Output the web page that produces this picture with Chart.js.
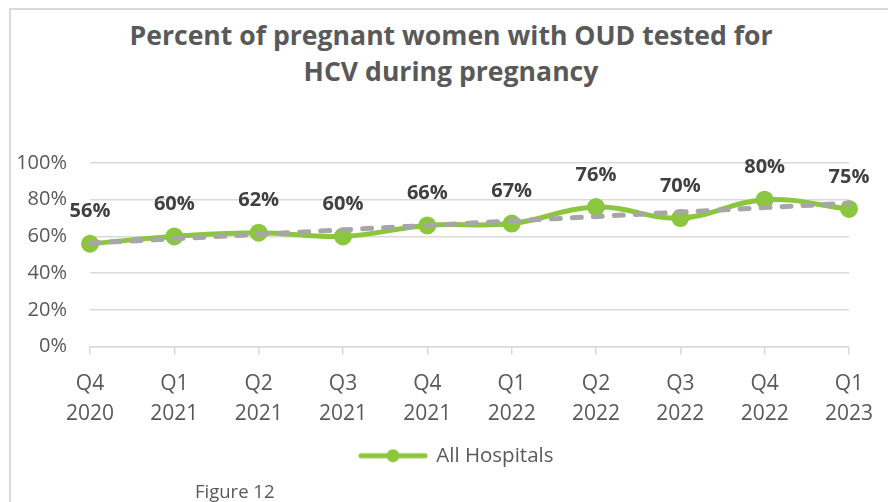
<!DOCTYPE html>
<html>
<head>
<meta charset="utf-8">
<script src="https://cdn.jsdelivr.net/npm/chart.js@4/dist/chart.umd.min.js"></script>
<style>
  html, body { margin: 0; padding: 0; background: #fff; overflow: hidden; }
  #wrap { position: relative; width: 888px; height: 502px; }
  #frame { position: absolute; left: 9px; top: 8px; width: 1000px; height: 600px; border: 2px solid #d9d9d9; }
  #title { position: absolute; left: 0; top: 17px; width: 902px; text-align: center;
           font: bold 26.6px "Open Sans", sans-serif; line-height: 36px; color: #595959; }
  #fig { position: absolute; left: 195px; top: 478px; font: 18.5px "Open Sans", sans-serif; color: #595959; }
  canvas { position: absolute; left: 0; top: 0; }
</style>
</head>
<body>
<div id="wrap">
  <div id="frame"></div>
  <div id="title">Percent of pregnant women with OUD tested for<br>HCV during pregnancy</div>
  <canvas id="chart" width="888" height="502"></canvas>
  <div id="fig">Figure 12</div>
</div>
<script>
// quarters on the x axis
const quarters = [
  ["Q4", "2020"], ["Q1", "2021"], ["Q2", "2021"], ["Q3", "2021"], ["Q4", "2021"],
  ["Q1", "2022"], ["Q2", "2022"], ["Q3", "2022"], ["Q4", "2022"], ["Q1", "2023"]
];
// percent tested, all hospitals
const allHospitals = [56, 60, 62, 60, 66, 67, 76, 70, 80, 75];
// linear trendline ends
const trendLine = [56.3, null, null, null, null, null, null, null, null, 78.1];

const green = "#8cc63f";
const grey = "#595959";

// legend sample: line with a dot
function legendMark() {
  const c = document.createElement("canvas");
  c.width = 70; c.height = 14;
  const g = c.getContext("2d");
  g.strokeStyle = green; g.lineWidth = 5; g.lineCap = "round";
  g.beginPath(); g.moveTo(3, 7); g.lineTo(67, 7); g.stroke();
  g.fillStyle = green;
  g.beginPath(); g.arc(35, 7, 6.5, 0, Math.PI * 2); g.fill();
  return c;
}

const valueLabels = {
  id: "valueLabels",
  afterDatasetsDraw(chart) {
    const meta = chart.getDatasetMeta(0);
    const ctx = chart.ctx;
    ctx.save();
    ctx.font = "bold 20px 'Open Sans', sans-serif";
    ctx.fillStyle = "#404040";
    ctx.textAlign = "center";
    ctx.textBaseline = "middle";
    meta.data.forEach(function (pt, i) {
      ctx.fillText(allHospitals[i] + "%", pt.x, pt.y - 32);
    });
    ctx.restore();
  }
};

// put the legend where the original sits
const legendShift = {
  id: "legendShift",
  afterLayout(chart) {
    chart.legend.left = 350;
  }
};

new Chart(document.getElementById("chart"), {
  type: "line",
  data: {
    labels: quarters,
    datasets: [
      {
        label: "All Hospitals",
        data: allHospitals,
        borderColor: green,
        backgroundColor: green,
        borderWidth: 5,
        pointRadius: 6.5,
        pointBackgroundColor: green,
        pointBorderColor: green,
        tension: 0.4,
        order: 1
      },
      {
        label: "trend",
        data: trendLine,
        spanGaps: true,
        borderColor: "#a6a6a6",
        borderWidth: 5,
        borderDash: [9, 12],
        borderCapStyle: "round",
        pointRadius: 0,
        tension: 0,
        order: 0
      }
    ]
  },
  options: {
    responsive: false,
    animation: false,
    layout: { padding: { top: 163, left: 0, right: 38, bottom: 26 } },
    plugins: {
      tooltip: { enabled: false },
      legend: {
        position: "bottom",
        align: "start",
        labels: {
          usePointStyle: true,
          pointStyleWidth: 66,
          color: grey,
          font: { family: "'Open Sans', sans-serif", size: 20.5 },
          generateLabels: function () {
            return [{ text: "All Hospitals", pointStyle: legendMark(), fontColor: grey,
                      datasetIndex: 0, lineWidth: 0, strokeStyle: "transparent", fillStyle: green }];
          }
        }
      }
    },
    scales: {
      x: {
        afterFit: function (s) { s.height = 89; },
        grid: { drawOnChartArea: false, drawTicks: true, tickLength: 8, color: "#d9d9d9", lineWidth: 1.5 },
        border: { display: true, color: "#d9d9d9", width: 1.5 },
        ticks: {
          color: grey,
          padding: 15,
          maxRotation: 0,
          autoSkip: false,
          font: { family: "'Open Sans', sans-serif", size: 21, lineHeight: 1.4 }
        }
      },
      y: {
        min: 0,
        max: 100,
        afterFit: function (s) { s.width = 90; },
        grid: { drawTicks: false, color: "#d9d9d9", lineWidth: 1.5 },
        border: { display: false },
        ticks: {
          stepSize: 20,
          padding: 23,
          color: grey,
          font: { family: "'Open Sans', sans-serif", size: 20 },
          callback: function (v) { return v + "%"; }
        }
      }
    }
  },
  plugins: [valueLabels, legendShift]
});
</script>
</body>
</html>
